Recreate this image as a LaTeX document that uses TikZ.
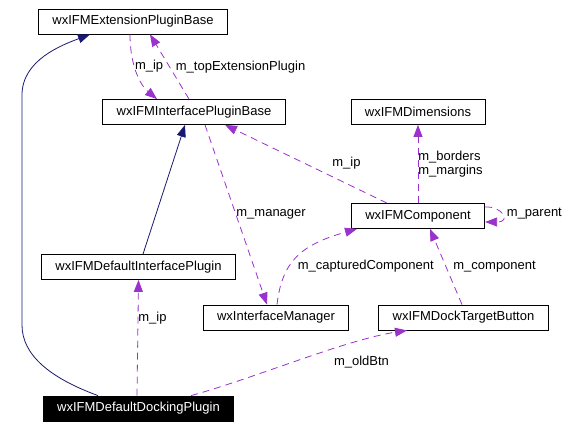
\documentclass[tikz,border=0pt]{standalone}
\usepackage{fontspec}
\setmainfont{Liberation Sans}
\usepackage{tikz}
\usetikzlibrary{arrows.meta,positioning}
\definecolor{inheritblue}{RGB}{25,25,112}
\definecolor{memberpurple}{RGB}{154,50,205}

\begin{document}
\begin{tikzpicture}[x=1pt,y=-1pt,on grid,
font=\fontsize{13}{14}\selectfont,
class/.style={rectangle,draw=black,line width=0.8pt,inner xsep=14pt,minimum height=25pt,text=black},
inherit/.style={draw=inheritblue,line width=0.8pt,-{Triangle[length=12pt,width=9pt]}},
member/.style={draw=memberpurple,line width=0.8pt,dash pattern=on 7pt off 5pt,-{Triangle[length=12pt,width=9pt]}},
lbl/.style={anchor=west,inner sep=0pt,text=black}]
\useasboundingbox (0,0) rectangle (571,428);
\node[class] (ext) at (133,21.5) {wxIFMExtensionPluginBase};
\node[class,below right=90.5pt and 61pt of ext] (ipb) {wxIFMInterfacePluginBase};
\node[class,right=224pt of ipb] (dim) {wxIFMDimensions};
\node[class,below=104pt of dim] (comp) {wxIFMComponent};
\node[class,below left=155pt and 55.5pt of ipb] (dip) {wxIFMDefaultInterfacePlugin};
\node[class,below right=101.5pt and 45.5pt of comp] (dtb) {wxIFMDockTargetButton};
\node[class,left=187.5pt of dtb] (mgr) {wxInterfaceManager};
\node[class,fill=black,text=white,below=141.5pt of dip] (dock) {wxIFMDefaultDockingPlugin};

\draw[inherit] ([xshift=-40.5pt]dock.north) .. controls (50,378) and (22,355) .. (22,325)
  -- (22,95) .. controls (22,60) and (62,45) .. ([xshift=-43pt]ext.south);
\draw[inherit] ([xshift=4.5pt]dip.north) -- ([xshift=-9pt]ipb.south);

\draw[member] ([xshift=-1.5pt]dock.north) -- (dip.south) node[lbl,pos=.67]{m\_ip};
\draw[member] ([xshift=-3pt]ext.south) .. controls (130,65) and (140,85) .. ([xshift=-37pt]ipb.north)
  node[lbl,pos=.4]{m\_ip};
\draw[member] ([xshift=-5pt]ipb.north) -- ([xshift=17pt]ext.south)
  node[lbl,pos=.5,xshift=6pt]{m\_topExtensionPlugin};
\draw[member] ([xshift=-31pt]comp.north) -- ([xshift=31pt]ipb.south)
  node[pos=.25,yshift=20pt,inner sep=0pt]{m\_ip};
\draw[member] ([xshift=11pt]ipb.south) -- ([xshift=-9pt]mgr.north) node[lbl,pos=.5]{m\_manager};
\draw[member] ([xshift=1pt]mgr.north) .. controls (282,262) and (300,245) .. ([xshift=-61pt]comp.south)
  node[lbl,pos=.5,yshift=-9pt]{m\_capturedComponent};
\draw[member] ([xshift=-1.5pt]dtb.north) -- ([xshift=12pt]comp.south)
  node[lbl,pos=.5,xshift=7pt]{m\_component};
\draw[member] (comp.north) -- (dim.south) node[lbl,pos=.5,align=left]{m\_borders\\m\_margins};
\draw[member] ([yshift=9pt]comp.east) .. controls (502,206) and (512,222) .. ([yshift=-6pt]comp.east)
  node[lbl,pos=.5,xshift=5pt]{m\_parent};
\draw[member] ([xshift=52.5pt]dock.north) .. controls (255,378) and (345,340) .. ([xshift=-56.5pt]dtb.south)
  node[lbl,pos=.6,xshift=11pt,yshift=-10pt]{m\_oldBtn};
\end{tikzpicture}
\end{document}
